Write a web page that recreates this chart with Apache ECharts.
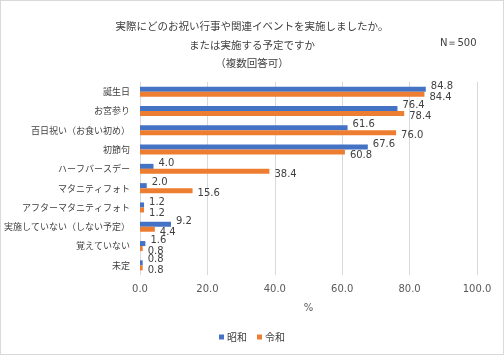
<!DOCTYPE html>
<html><head><meta charset="utf-8">
<script src="https://cdn.jsdelivr.net/npm/echarts@6/dist/echarts.min.js"></script>
<style>html,body{margin:0;padding:0;background:#fff}#c{width:504px;height:355px;box-sizing:border-box;border:1px solid #d9d9d9}</style>
</head><body><div id="c"></div>
<script>
const categories = ['誕生日','お宮参り','百日祝い（お食い初め）','初節句','ハーフバースデー','マタニティフォト','アフターマタニティフォト','実施していない（しない予定）','覚えていない','未定'];
const showa = [84.8,76.4,61.6,67.6,4.0,2.0,1.2,9.2,1.6,0.8];
const reiwa = [84.4,78.4,76.0,60.8,38.4,15.6,1.2,4.4,0.8,0.8];
const xTicks = [0,20,40,60,80,100];
const seriesNames = ['昭和','令和'];
const titleLines = ['実際にどのお祝い行事や関連イベントを実施しましたか。','または実施する予定ですか','（複数回答可）'];

const cjk = '"Noto Sans CJK JP", sans-serif';
const num = '"DejaVu Sans", sans-serif';
const chart = echarts.init(document.getElementById('c'));
const lbl = (dy) => ({show:true, position:'right', distance:5, offset:[0,dy], color:'#404040', fontFamily:num, fontSize:10, formatter:p=>p.value.toFixed(1)});
chart.setOption({
  animation:false,
  title:{text:titleLines.join('\n'), left:'center', top:11, textStyle:{fontFamily:cjk, fontSize:10.5, fontWeight:'normal', color:'#404040', lineHeight:18.5}},
  graphic:[{type:'text', left:439, top:37, style:{text:'N＝500', font:'10px '+num, fill:'#404040'}}],
  legend:{bottom:7, left:'center', itemWidth:5, itemHeight:5, icon:'rect', itemGap:10, textStyle:{fontFamily:cjk, fontSize:10, color:'#404040', padding:[0,0,0,-2]}, data:seriesNames},
  grid:{left:139, right:26, top:81, bottom:79},
  xAxis:{type:'value', min:xTicks[0], max:xTicks[xTicks.length-1], interval:20,
    axisLine:{show:false}, axisTick:{show:false},
    splitLine:{lineStyle:{color:'#d9d9d9', width:1}},
    axisLabel:{fontFamily:num, fontSize:10, color:'#595959', margin:9, formatter:v=>v.toFixed(1)},
    name:'%', nameLocation:'middle', nameGap:28, nameTextStyle:{fontFamily:num, fontSize:10, color:'#595959'}},
  yAxis:{type:'category', data:categories, inverse:true,
    axisLine:{show:false}, axisTick:{show:false},
    axisLabel:{fontFamily:cjk, fontSize:9, color:'#404040', margin:10}},
  series:[
    {name:seriesNames[0], type:'bar', data:showa, barWidth:5, barGap:'0%', itemStyle:{color:'#4472C4'}, label:lbl(-3)},
    {name:seriesNames[1], type:'bar', data:reiwa, barWidth:5, itemStyle:{color:'#ED7D31'}, label:lbl(3)}
  ]
});
</script></body></html>
